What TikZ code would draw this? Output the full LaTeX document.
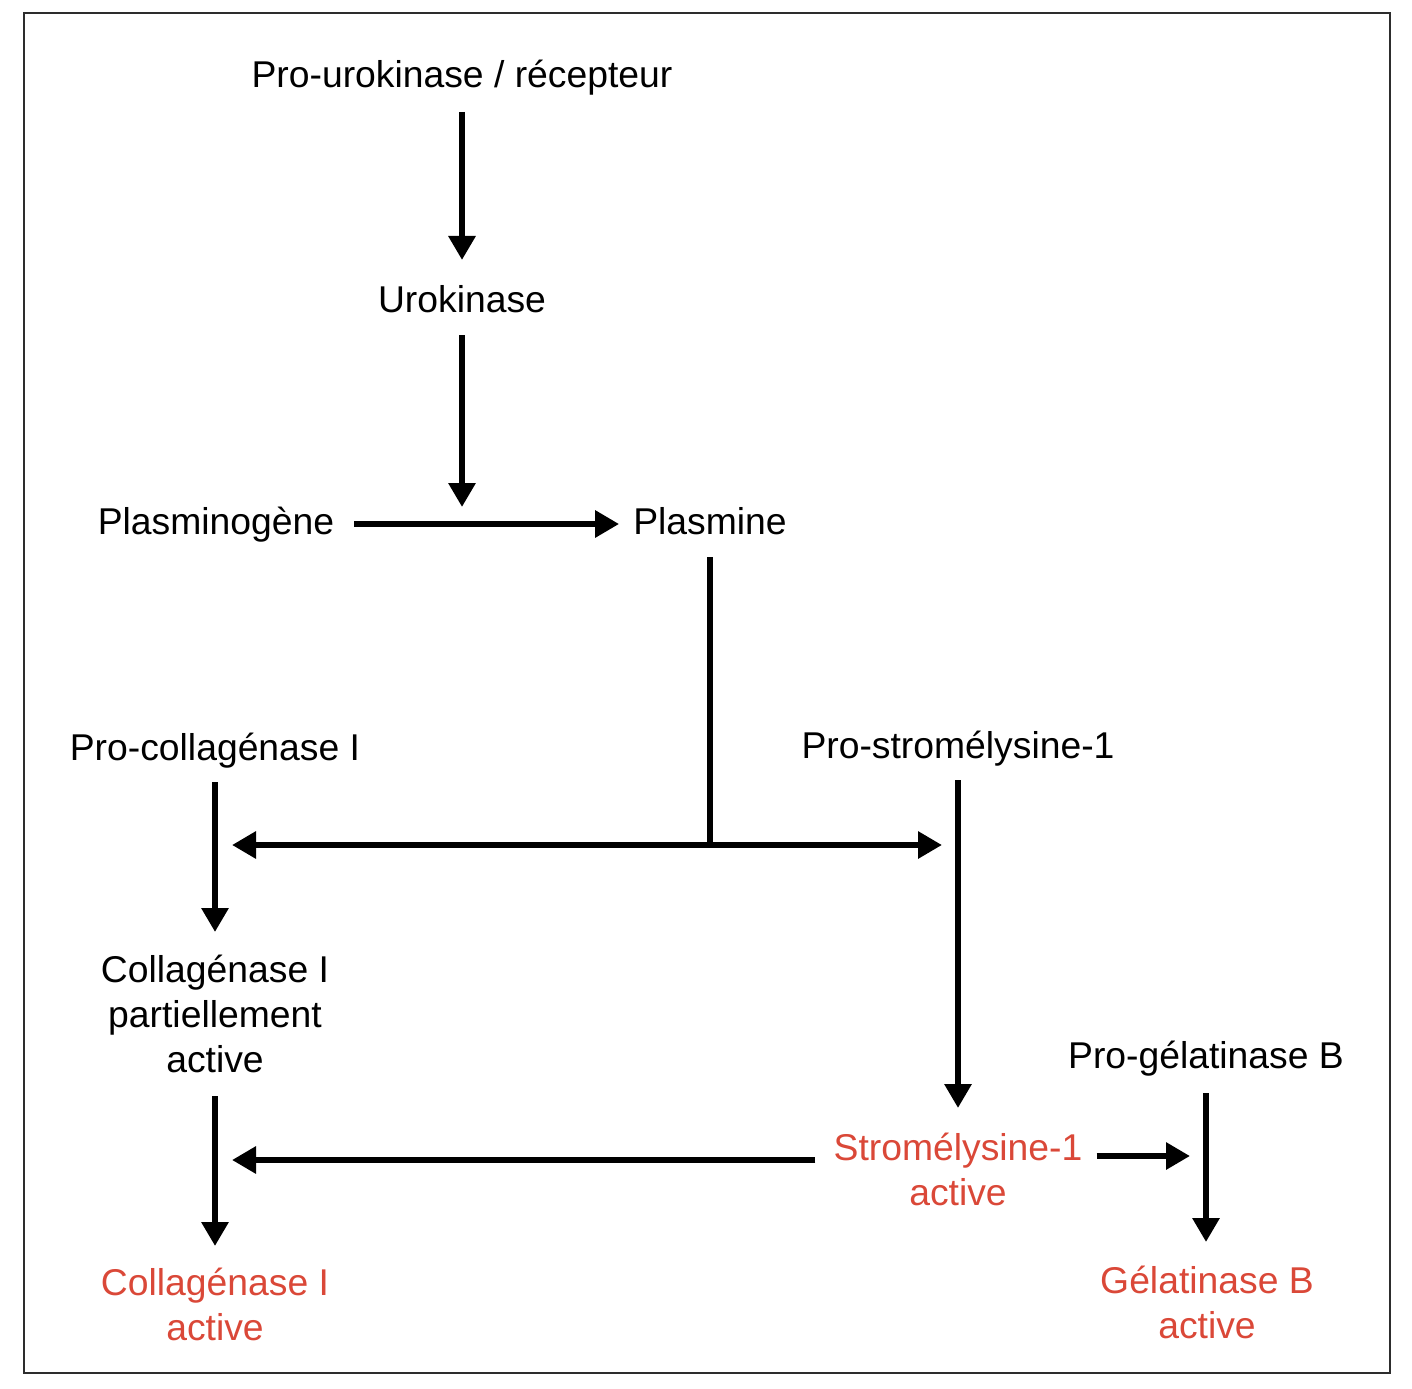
\documentclass[tikz,border=0pt]{standalone}
\usepackage{fontspec}
\setmainfont{Liberation Sans}
\usetikzlibrary{arrows.meta,calc}
\definecolor{actred}{RGB}{218,72,56}
\definecolor{framegray}{RGB}{45,45,45}
\begin{document}
\begin{tikzpicture}[x=1pt,y=1pt,
  lbl/.style={anchor=base,inner sep=0pt,font=\fontsize{37.3}{45}\selectfont},
  rlbl/.style={lbl,text=actred},
  tip/.tip={Triangle[length=24pt,width=26pt]},
  arr/.style={line width=6pt,-tip},
  dblarr/.style={line width=6pt,tip-tip},
  ln/.style={line width=6pt}]
\useasboundingbox (0,0) rectangle (1412,-1388);
\draw[line width=2.5pt,draw=framegray] (24,-13) rectangle (1390,-1373);

% texts
\node[lbl] (pu)  at (462,-88)   {Pro-urokinase / récepteur};
\node[lbl] (uk)  at (462,-312)  {Urokinase};
\node[lbl] (pg)  at (216,-534)  {Plasminogène};
\node[lbl] (pm)  at (710,-534)  {Plasmine};
\node[lbl] (pcl) at (215,-760)  {Pro-collagénase I};
\node[lbl] (pst) at (958,-758)  {Pro-stromélysine-1};
\node[lbl] (cpa) at (215,-982)  {\begin{tabular}[t]{@{}c@{}}Collagénase I\\partiellement\\active\end{tabular}};
\node[lbl] (pgb) at (1206,-1068) {Pro-gélatinase B};
\node[rlbl] (st) at (958,-1160) {\begin{tabular}[t]{@{}c@{}}Stromélysine-1\\active\end{tabular}};
\node[rlbl] (ca) at (215,-1295) {\begin{tabular}[t]{@{}c@{}}Collagénase I\\active\end{tabular}};
\node[rlbl] (gb) at (1207,-1293) {\begin{tabular}[t]{@{}c@{}}Gélatinase B\\active\end{tabular}};

% connectors
\draw[arr] (pu |- 0,-112) -- (uk |- 0,-260);
\draw[arr] (uk |- 0,-335) -- (uk |- 0,-507);
\draw[arr] (pg.east |- 0,-524) ++(20,0) -- ($(pm.west |- 0,-524)+(-14,0)$);
\coordinate (J) at (pm |- 0,-845);
\draw[ln] (pm |- 0,-557) -- (J);
\draw[dblarr] ($(J -| pcl)+(17,0)$) -- ($(J -| pst)+(-16,0)$);
\draw[arr] (pcl |- 0,-782) -- (cpa |- 0,-932);
\draw[arr] (pst |- 0,-780) -- (st |- 0,-1108);
\draw[arr] (cpa |- 0,-1096) -- (ca |- 0,-1246);
\draw[arr] ($(st.west |- 0,-1160)+(-18,0)$) -- ($(ca |- 0,-1160)+(17,0)$);
\draw[arr] ($(st.east |- 0,-1156)+(14,0)$) -- ($(pgb |- 0,-1156)+(-16,0)$);
\draw[arr] (pgb |- 0,-1093) -- (pgb |- 0,-1242);
\end{tikzpicture}
\end{document}
